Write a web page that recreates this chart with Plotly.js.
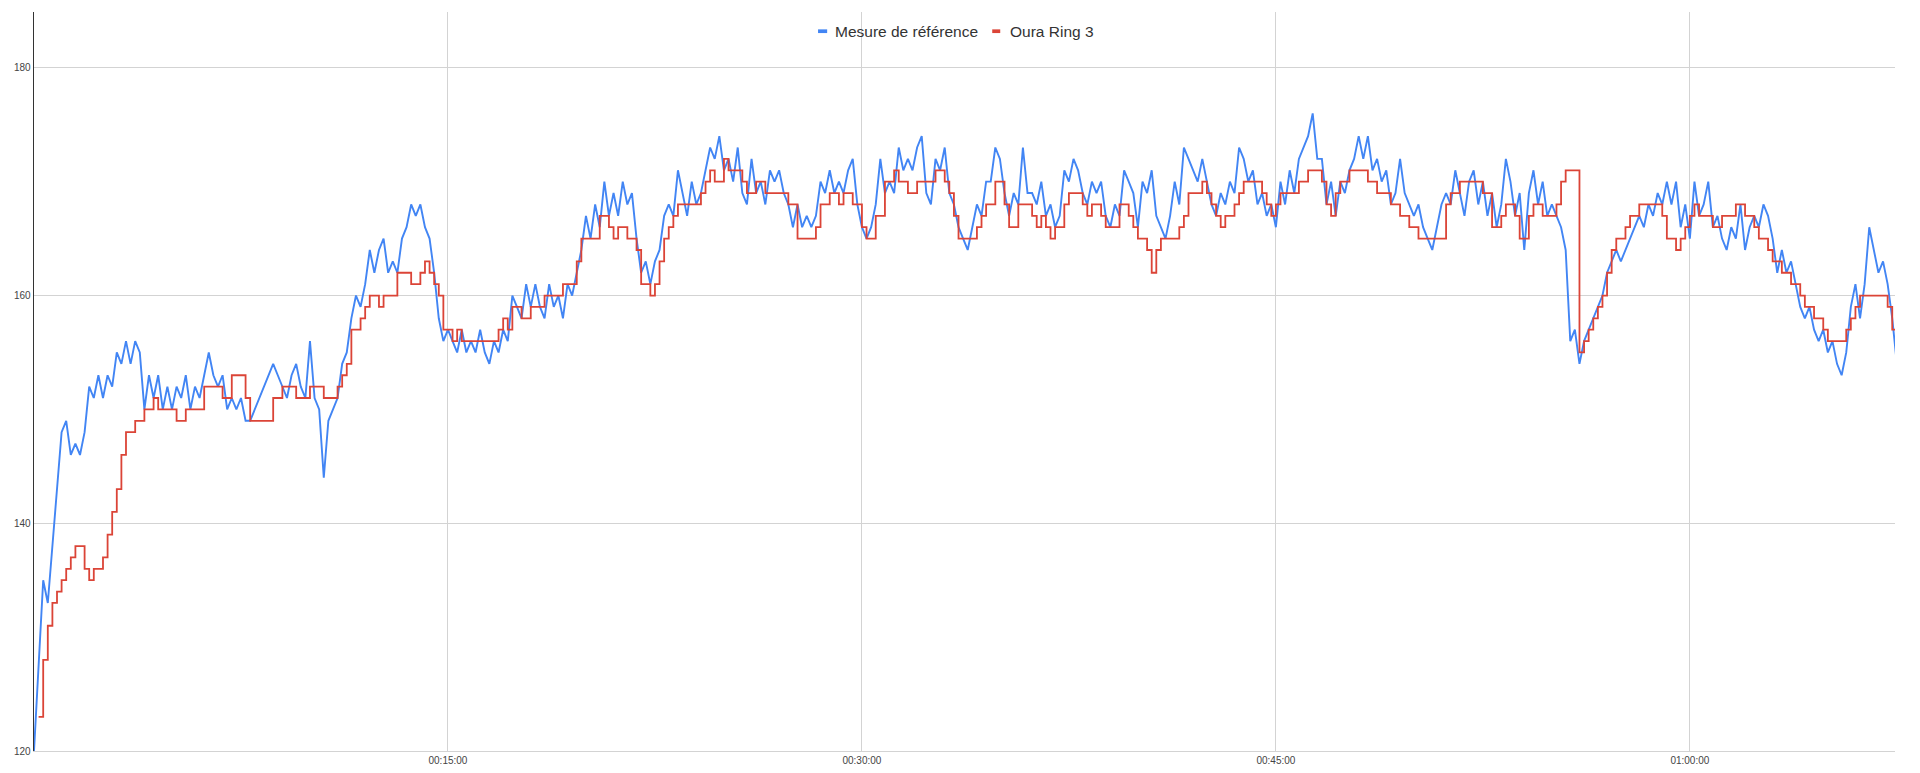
<!DOCTYPE html>
<html><head><meta charset="utf-8">
<script src="https://cdn.plot.ly/plotly-3.0.1.min.js"></script>
<style>html,body{margin:0;padding:0;background:#fff;overflow:hidden}#chart{width:1920px;height:773px}</style>
</head><body><div id="chart"></div>
<script>
// sampling step of the series below, in seconds
const SAMPLE_STEP_S = 10;

const seriesNames = ['Mesure de référence', 'Oura Ring 3'];

// heart rate (bpm), reference device, one value every 10 s from 00:00:00
const reference = [
120,128,135,133,138,143,148,149,146,147,
146,148,152,151,153,151,153,152,155,154,
156,154,156,155,150,153,151,153,150,152,
150,152,151,153,150,152,151,153,155,153,
152,153,150,151,150,151,149,149,150,151,
152,153,154,153,152,151,153,154,152,151,
156,151,150,144,149,150,151,154,155,158,
160,159,161,164,162,164,165,162,163,162,
165,166,168,167,168,166,165,162,158,156,
157,156,155,157,155,156,155,157,155,154,
156,155,157,156,160,159,158,161,159,161,
159,158,161,159,160,158,161,160,162,164,
167,165,168,166,170,167,169,167,170,168,
169,165,162,163,161,163,164,167,168,167,
171,169,167,170,168,169,171,173,172,174,
171,172,170,173,169,168,172,169,170,168,
171,170,171,169,168,166,168,166,167,166,
167,170,169,171,169,170,169,171,172,168,
166,165,166,168,172,169,170,169,173,171,
172,171,173,174,169,168,172,171,173,169,
168,166,165,164,166,168,167,170,170,173,
172,169,167,169,168,173,169,169,168,170,
167,168,166,167,171,170,172,171,169,168,
170,169,170,167,166,168,167,171,170,169,
166,170,169,171,167,166,165,167,170,168,
173,172,171,170,172,170,168,167,169,168,
170,169,173,172,170,171,168,169,167,168,
166,170,168,171,169,172,173,174,176,172,
172,168,170,167,170,169,171,172,174,172,
174,171,172,170,171,168,169,172,169,168,
167,168,166,165,164,166,168,169,168,171,
169,167,170,171,168,170,167,169,166,168,
172,170,167,169,164,169,171,168,170,167,
168,167,166,164,156,157,154,156,157,158,
159,160,162,163,164,163,164,165,166,167,
166,168,167,169,168,170,168,170,166,168,
165,170,167,168,170,166,167,165,164,166,
165,168,164,166,167,166,168,167,165,162,
164,162,163,161,159,158,159,157,156,157,
155,156,154,153,155,159,161,158,161,166,
164,162,163,161,158,154
];

// heart rate (bpm), Oura Ring 3, same time base
const oura = [
null,123,128,131,133,134,135,136,137,138,
138,136,135,136,136,137,139,141,143,146,
148,148,149,149,150,150,151,150,150,150,
150,149,149,150,150,150,150,152,152,152,
152,151,151,153,153,153,151,149,149,149,
149,149,151,151,152,152,152,151,151,151,
152,152,152,151,151,151,152,153,154,157,
157,158,159,160,160,159,160,160,160,162,
162,162,161,161,162,163,162,161,160,157,
157,156,157,156,156,156,156,156,156,156,
156,157,158,157,159,159,158,158,159,159,
159,160,160,160,160,161,161,161,163,165,
165,165,165,167,167,166,165,166,166,165,
165,164,161,161,160,161,163,165,166,167,
168,168,168,168,168,169,170,171,170,170,
172,171,171,171,170,169,169,170,170,169,
169,169,169,169,168,168,165,165,165,165,
166,168,168,169,169,168,169,169,168,168,
166,165,165,167,167,170,170,171,170,170,
169,169,170,170,170,170,171,171,170,169,
167,165,165,165,165,166,167,168,168,170,
170,168,166,166,168,168,168,167,166,167,
166,165,166,166,168,169,169,169,168,167,
168,168,167,166,166,166,168,168,167,166,
165,165,164,162,164,165,165,165,165,166,
167,169,169,169,170,169,168,167,166,167,
167,168,169,170,170,170,170,169,168,167,
168,169,169,169,169,170,170,171,171,171,
170,168,167,169,170,170,171,171,171,171,
170,170,169,169,169,168,168,167,167,166,
166,165,165,165,165,165,165,168,169,169,
170,170,170,170,170,169,169,166,166,167,
168,168,167,165,165,167,168,168,167,167,
167,168,170,171,171,171,155,156,157,158,
159,160,162,164,165,165,166,167,167,168,
168,168,168,168,167,165,165,164,165,166,
167,168,167,167,167,166,166,167,167,167,
168,168,167,167,166,165,165,164,163,163,
162,162,161,161,160,159,159,158,158,157,
156,156,156,156,157,158,159,160,160,160,
160,160,160,159,157,157
];

const xTickVals = [900, 1800, 2700, 3600];
const xTickText = ['00:15:00', '00:30:00', '00:45:00', '01:00:00'];
const yTickVals = [120, 140, 160, 180];

const colors = ['#4285F4', '#DB4437'];
const timeS = reference.map((_, i) => i * SAMPLE_STEP_S);

const FONT = 'Arial, "Liberation Sans", sans-serif';
const GRID = '#d3d3d3';

const traces = [
  {x: timeS, y: reference, name: seriesNames[0], type: 'scatter', mode: 'lines',
   line: {color: colors[0], width: 1.9, shape: 'linear'}, showlegend: false},
  {x: timeS, y: oura, name: seriesNames[1], type: 'scatter', mode: 'lines',
   line: {color: colors[1], width: 1.8, shape: 'hv'}, connectgaps: false, showlegend: false}
];

// hand-made legend: short colour dash + label, centred at the top of the plot
const legendY = 0.974;
const legendItems = [
  {x0: 0.4213, x1: 0.4262, tx: 0.4294},
  {x0: 0.5149, x1: 0.5192, tx: 0.5235}
];
const shapes = legendItems.map((it, i) => ({
  type: 'rect', xref: 'paper', yref: 'paper', x0: it.x0, x1: it.x1,
  y0: legendY - 0.0025, y1: legendY + 0.0025,
  fillcolor: colors[i], line: {width: 0}, layer: 'above'
}));
const annotations = legendItems.map((it, i) => ({
  xref: 'paper', yref: 'paper', x: it.tx, y: legendY, xanchor: 'left', yanchor: 'middle',
  text: seriesNames[i], showarrow: false, font: {family: FONT, size: 15.5, color: '#333'}
}));

const layout = {
  width: 1920, height: 773,
  margin: {l: 34, r: 25, t: 12, b: 22, pad: 0},
  paper_bgcolor: '#fff', plot_bgcolor: '#fff',
  font: {family: FONT, color: '#444'},
  xaxis: {
    range: [0, 4046], tickmode: 'array', tickvals: xTickVals, ticktext: xTickText,
    showgrid: true, gridcolor: GRID, gridwidth: 1, zeroline: false,
    showline: true, linecolor: GRID, linewidth: 1, ticks: '',
    tickfont: {family: FONT, size: 10, color: '#444'}, fixedrange: true
  },
  yaxis: {
    range: [120, 184.9], tickmode: 'array', tickvals: yTickVals,
    showgrid: true, gridcolor: GRID, gridwidth: 1, zeroline: false,
    showline: true, linecolor: '#333', linewidth: 1.4, ticks: '',
    tickfont: {family: FONT, size: 10, color: '#444'}, fixedrange: true
  },
  shapes: shapes,
  annotations: annotations,
  showlegend: false
};

Plotly.newPlot('chart', traces, layout, {displayModeBar: false, staticPlot: true});
</script>
</body></html>
